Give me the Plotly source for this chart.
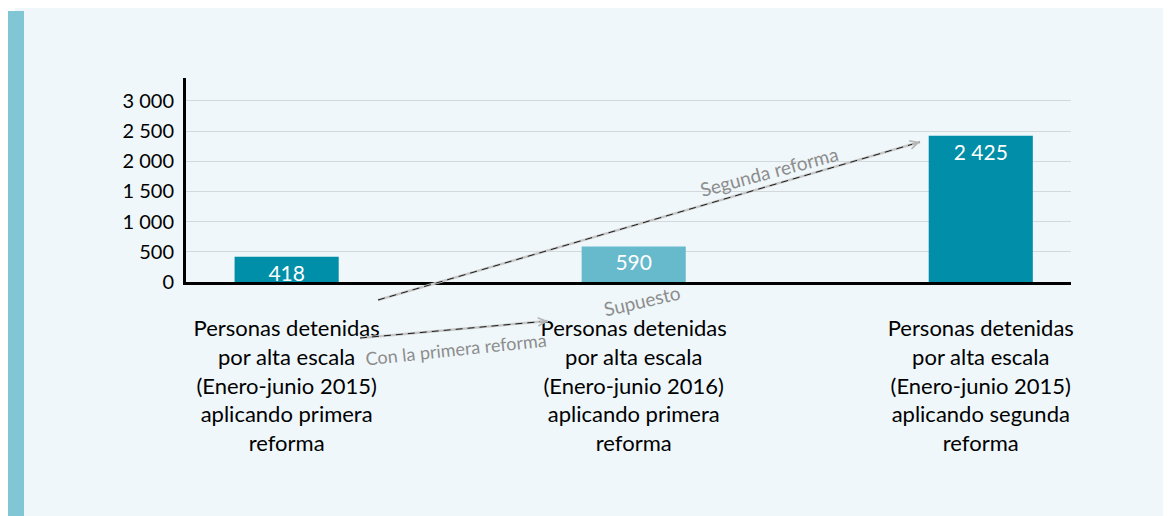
import plotly.graph_objects as go

# data
categorias = [
    "Personas detenidas<br>por alta escala<br>(Enero-junio 2015)<br>aplicando primera<br>reforma",
    "Personas detenidas<br>por alta escala<br>(Enero-junio 2016)<br>aplicando primera<br>reforma",
    "Personas detenidas<br>por alta escala<br>(Enero-junio 2015)<br>aplicando segunda<br>reforma",
]
valores = [418, 590, 2425]
colores = ["#008fa8", "#67b9cc", "#008ea8"]
y_ticks = [0, 500, 1000, 1500, 2000, 2500, 3000]

# page body adds 8px margin, so figure is 8px smaller and coords are screen - 8
OFF = 8
W, H = 1171 - OFF, 516 - OFF
L, R, T, B = 186 - OFF, 100, 78 - OFF, 234


def px(x):  # screen pixel -> paper x
    return (x - OFF - L) / (W - L - R)


def py(y):  # screen pixel (from top) -> paper y
    return (H - B - (y - OFF)) / (H - T - B)


FONT = "Lato, 'Open Sans', sans-serif"
GRIS = "#8d8d8d"

fig = go.Figure()
fig.add_trace(go.Bar(
    x=list(range(len(valores))), y=valores,
    marker=dict(color=colores, line=dict(width=0)),
    width=0.30,
    texttemplate="%{y:,}", textposition="inside", insidetextanchor="end",
    textfont=dict(color="white", size=21, family=FONT),
    constraintext="none", cliponaxis=False,
    hoverinfo="skip",
))


def flecha(x0, y0, x1, y1):
    return [
        dict(type="line", xref="paper", yref="paper", x0=px(x0), y0=py(y0), x1=px(x1), y1=py(y1),
             line=dict(color="#c8c8c8", width=2.5)),
        dict(type="line", xref="paper", yref="paper", x0=px(x0), y0=py(y0), x1=px(x1), y1=py(y1),
             line=dict(color="#1a1a1a", width=1, dash="7px,5px")),
    ]


def punta(x0, y0, x1, y1):
    dx, dy = x1 - x0, y1 - y0
    n = (dx * dx + dy * dy) ** 0.5
    return dict(xref="paper", yref="paper", x=px(x1), y=py(y1),
                ax=-dx / n * 10, ay=-dy / n * 10, text="", showarrow=True,
                arrowhead=5, arrowsize=0.9, arrowwidth=1.8, arrowcolor="#b5b5b5")


def rotulo(texto, x, y, ang, size=19):
    return dict(xref="paper", yref="paper", x=px(x), y=py(y), text=texto, showarrow=False,
                xanchor="center", yanchor="middle", textangle=ang,
                font=dict(family=FONT, size=size, color=GRIS))


seg = (378, 300, 920, 142)
pri = (360, 338, 548, 321)

shapes = [
    # left stripe
    dict(type="rect", xref="paper", yref="paper", x0=px(8), x1=px(24), y0=py(11), y1=py(516),
         fillcolor="#81c6d5", line_width=0, layer="below"),
    dict(type="rect", xref="paper", yref="paper", x0=px(8), x1=px(15), y0=py(8), y1=py(11),
         fillcolor="white", line_width=0, layer="below"),
] + flecha(*seg) + flecha(*pri)

annotations = [
    punta(*seg),
    punta(*pri),
    rotulo("Segunda reforma", 769, 171, -15),
    rotulo("Con la primera reforma", 456, 349, -6, 18),
    rotulo("Supuesto", 642, 300, -13),
]

fig.update_layout(
    width=W, height=H,
    margin=dict(l=L, r=R, t=T, b=B, pad=0),
    paper_bgcolor="#eff7fa", plot_bgcolor="rgba(0,0,0,0)",
    separators=", ",
    showlegend=False,
    font=dict(family=FONT, color="black"),
    shapes=shapes, annotations=annotations,
    xaxis=dict(
        range=[-0.29, 2.26], tickvals=list(range(len(categorias))), ticktext=categorias,
        showline=True, linecolor="black", linewidth=3,
        ticks="outside", ticklen=25, tickcolor="rgba(0,0,0,0)",
        tickfont=dict(family=FONT, size=22, color="black"),
        showgrid=False, zeroline=False, fixedrange=True,
    ),
    yaxis=dict(
        range=[0, 3380], tickvals=y_ticks, tickformat=",d",
        showline=True, linecolor="black", linewidth=3,
        gridcolor="#d3d8da", gridwidth=1, zeroline=False,
        ticks="outside", ticklen=5, tickcolor="rgba(0,0,0,0)",
        tickfont=dict(family=FONT, size=20, color="black"),
        fixedrange=True,
    ),
)

fig.write_html("out.html")
